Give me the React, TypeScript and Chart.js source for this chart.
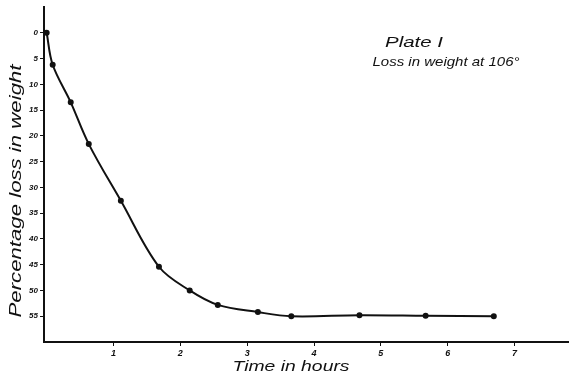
import React, { useEffect, useRef } from "react";
import { Chart, registerables } from "chart.js";

Chart.register(...registerables);

const hours = [0, 0.09, 0.36, 0.63, 1.11, 1.68, 2.14, 2.56, 3.16, 3.66, 4.68, 5.67, 6.69];
const lossPct = [0, 6.2, 13.5, 21.6, 32.6, 45.4, 50.0, 52.8, 54.2, 55.0, 54.8, 54.9, 55.0];
const yTicks = [0, 5, 10, 15, 20, 25, 30, 35, 40, 45, 50, 55];
const xTicks = [1, 2, 3, 4, 5, 6, 7];

const titleText = "Plate I";
const subtitleText = "Loss in weight at 106°";
const xTitle = "Time in hours";
const yTitle = "Percentage loss in weight";

function drawFit(
  ctx: CanvasRenderingContext2D,
  text: string,
  cx: number,
  cy: number,
  w: number,
  size: number,
  rot: number
) {
  ctx.save();
  ctx.font = `italic ${size}px "Liberation Sans", sans-serif`;
  const m = ctx.measureText(text).width;
  ctx.translate(cx, cy);
  ctx.rotate(rot);
  ctx.scale(w / m, 1);
  ctx.textAlign = "center";
  ctx.textBaseline = "middle";
  ctx.fillStyle = "#111";
  ctx.fillText(text, 0, 0);
  ctx.restore();
}

const textPlugin = {
  id: "plateText",
  afterDraw(chart: any) {
    const ctx = chart.ctx as CanvasRenderingContext2D;
    drawFit(ctx, titleText, 414, 43, 58, 15, 0);
    drawFit(ctx, subtitleText, 446, 62, 147, 13, 0);
    drawFit(ctx, xTitle, 291, 367, 117, 14, 0);
    drawFit(ctx, yTitle, 16, 191, 253, 17, -Math.PI / 2);
  },
};

export default function App() {
  const ref = useRef<HTMLCanvasElement | null>(null);
  useEffect(() => {
    if (!ref.current) return;
    const chart = new Chart(ref.current, {
      type: "scatter",
      data: {
        datasets: [
          {
            data: hours.map((h, i) => ({ x: h, y: lossPct[i] })),
            showLine: true,
            borderColor: "#111",
            backgroundColor: "#111",
            borderWidth: 2,
            pointRadius: 2,
            pointHoverRadius: 2,
            tension: 0.35,
          },
        ],
      },
      options: {
        animation: false,
        responsive: false,
        maintainAspectRatio: false,
        layout: { padding: { top: 7, left: 0, right: 0, bottom: 0 } },
        plugins: { legend: { display: false }, tooltip: { enabled: false } },
        scales: {
          x: {
            type: "linear",
            min: -0.04,
            max: 7.8,
            afterBuildTicks: (s: any) => {
              s.ticks = xTicks.map((v) => ({ value: v }));
            },
            afterFit: (s: any) => {
              s.height = 34;
            },
            border: { color: "#111", width: 2 },
            grid: { drawOnChartArea: false, color: "#111", tickLength: 4, lineWidth: 1 },
            ticks: {
              color: "#111",
              padding: 2,
              font: { family: "Liberation Sans", style: "italic", weight: "bold", size: 9 },
              maxRotation: 0,
              autoSkip: false,
            },
          },
          y: {
            type: "linear",
            reverse: true,
            min: -5,
            max: 60,
            afterBuildTicks: (s: any) => {
              s.ticks = yTicks.map((v) => ({ value: v }));
            },
            afterFit: (s: any) => {
              s.width = 44;
            },
            border: { color: "#111", width: 2 },
            grid: { drawOnChartArea: false, color: "#111", tickLength: 4, lineWidth: 1 },
            ticks: {
              color: "#111",
              padding: 2,
              font: { family: "Liberation Sans", style: "italic", weight: "bold", size: 8 },
              autoSkip: false,
            },
          },
        },
      },
      plugins: [textPlugin],
    });
    return () => chart.destroy();
  }, []);
  return (
    <div style={{ position: "absolute", left: 0, top: 0, width: 572, height: 376, background: "#fff" }}>
      <canvas ref={ref} width={572} height={376} style={{ width: 572, height: 376, display: "block" }} />
    </div>
  );
}
